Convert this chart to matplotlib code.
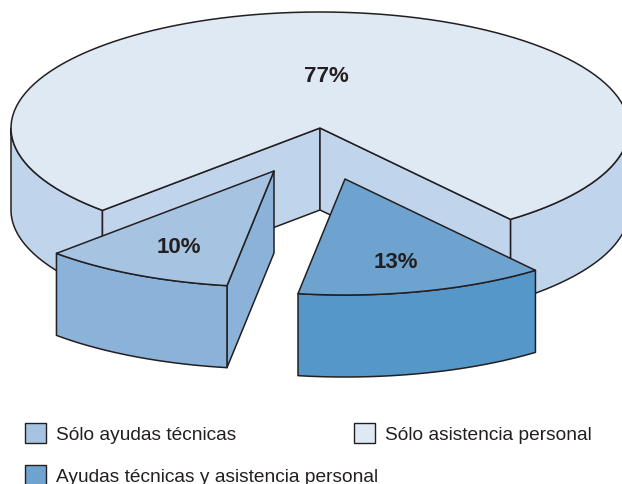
import numpy as np
import matplotlib
matplotlib.use("Agg")
import matplotlib.pyplot as plt
from matplotlib.patches import Polygon, Rectangle

plt.rcParams['font.family'] = ['Liberation Sans', 'DejaVu Sans']

labels = ['Sólo asistencia personal', 'Sólo ayudas técnicas', 'Ayudas técnicas y asistencia personal']
shares = [77, 10, 13]

INK = '#231f20'
top_colors = ['#dfe9f4', '#a6c4e2', '#6fa3cf']
side_colors = ['#c0d5eb', '#8bb2d8', '#5697c9']

# pie geometry in pixels
RX, RY, DEPTH = 309, 116, 82
centers = [(320, 128), (274, 171), (345, 179)]
START = -44.75  # degrees from the front of the pie, going right


def arc(c, t0, t1, drop=0):
    t = np.radians(np.linspace(t0, t1, 120))
    return np.column_stack([c[0] + RX * np.sin(t), c[1] + drop + RY * np.cos(t)])


def face(ax, pts, color, z):
    ax.add_patch(Polygon(pts, closed=True, facecolor=color, edgecolor=INK, lw=1.1, joinstyle='round', zorder=z))


def wall(ax, c, t0, t1, color, z):
    top = arc(c, t0, t1)
    face(ax, np.vstack([top, arc(c, t1, t0, DEPTH)]), color, z)


fig = plt.figure(figsize=(6.22, 4.85), dpi=100)
ax = fig.add_axes([0, 0, 1, 1])
ax.set_xlim(0, 622)
ax.set_ylim(484, -1)
ax.axis('off')

deg = [s * 3.6 for s in shares]
a_left = START
a_mid = a_left + deg[1]
a_right = a_mid + deg[2]

# big slice: outer walls, inner walls, then top
c = centers[0]
wall(ax, c, a_right, 90, side_colors[0], 1)
wall(ax, c, -90, a_left, side_colors[0], 1)
for t in (a_left, a_right):
    p = arc(c, t, t)[0]
    face(ax, [c, p, (p[0], p[1] + DEPTH), (c[0], c[1] + DEPTH)], side_colors[0], 2)
face(ax, np.vstack([[c], arc(c, a_right, 360 + a_left)]), top_colors[0], 3)

# ayudas tecnicas wedge
c = centers[1]
p = arc(c, a_mid, a_mid)[0]
face(ax, [c, p, (p[0], p[1] + DEPTH), (c[0], c[1] + DEPTH)], side_colors[1], 4)
wall(ax, c, a_left, a_mid, side_colors[1], 5)
face(ax, np.vstack([[c], arc(c, a_left, a_mid)]), top_colors[1], 6)

# ayudas + asistencia wedge
c = centers[2]
wall(ax, c, a_mid, a_right, side_colors[2], 5)
face(ax, np.vstack([[c], arc(c, a_mid, a_right)]), top_colors[2], 6)

for s, (x, y) in zip(shares, [(326.5, 76), (179, 247), (395.5, 262)]):
    ax.text(x, y, f'{s}%', fontsize=16, fontweight='bold', color=INK, ha='center', va='center', zorder=7)

# legend
legend_order = [1, 0, 2]
legend_pos = [(25, 423), (354, 423), (25, 465)]
for i, (x, y) in zip(legend_order, legend_pos):
    ax.add_patch(Rectangle((x, y), 21, 20, facecolor=top_colors[i], edgecolor=INK, lw=1.0, zorder=7))
    ax.text(x + 31, y + 11.5, labels[i], fontsize=13.75, color=INK, ha='left', va='center', zorder=7)

fig.savefig('out.png', dpi=100)
